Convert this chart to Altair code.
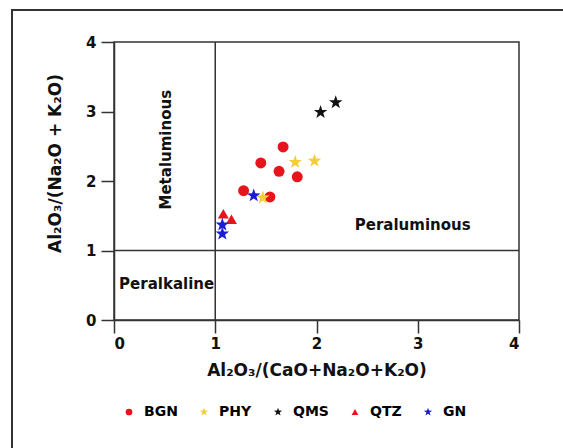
import altair as alt
import pandas as pd

STAR = ("M0,-1.3L0.306,-0.421L1.236,-0.402L0.494,0.161L0.764,1.052L0,0.52"
        "L-0.764,1.052L-0.494,0.161L-1.236,-0.402L-0.306,-0.421Z")

groups = ["BGN", "PHY", "QMS", "QTZ", "GN"]
colors = ["#e8141c", "#f4cd3a", "#111111", "#e8141c", "#1c1cd4"]
shapes = ["circle", STAR, STAR, "triangle-up", STAR]

bgn_x = [1.67, 1.45, 1.63, 1.81, 1.28, 1.54]
bgn_y = [2.49, 2.26, 2.14, 2.06, 1.86, 1.77]
phy_x = [1.79, 1.98, 1.47]
phy_y = [2.27, 2.29, 1.76]
qms_x = [2.04, 2.19]
qms_y = [2.99, 3.13]
qtz_x = [1.08, 1.16]
qtz_y = [1.53, 1.45]
gn_x = [1.38, 1.07, 1.07]
gn_y = [1.79, 1.37, 1.24]

xs = [bgn_x, phy_x, qms_x, qtz_x, gn_x]
ys = [bgn_y, phy_y, qms_y, qtz_y, gn_y]
rows = []
for g, xl, yl in zip(groups, xs, ys):
    for a, b in zip(xl, yl):
        rows.append({"group": g, "x": a, "y": b})
df = pd.DataFrame(rows)

FONT = "DejaVu Sans"
xtitle = "Al\u2082O\u2083/(CaO+Na\u2082O+K\u2082O)"
ytitle = "Al\u2082O\u2083/(Na\u2082O + K\u2082O)"

W, H = 405, 278

xenc = alt.X("x:Q", scale=alt.Scale(domain=[0, 4], nice=False),
             axis=alt.Axis(title=xtitle, values=[0, 1, 2, 3, 4], format="d"))
yenc = alt.Y("y:Q", scale=alt.Scale(domain=[0, 4], nice=False),
             axis=alt.Axis(title=ytitle, values=[0, 1, 2, 3, 4], format="d",
                           titleX=-50, titleY=121))

leg = dict(title=None, orient="none", direction="horizontal",
           columns=5, legendX=8, legendY=363,
           symbolSize=45, labelFontSize=14, labelFont=FONT,
           labelFontWeight="bold", columnPadding=19, labelOffset=8)

pts = alt.Chart(df).mark_point(filled=True, size=120, opacity=1, clip=False).encode(
    x=xenc,
    y=yenc,
    color=alt.Color("group:N", scale=alt.Scale(domain=groups, range=colors),
                    legend=alt.Legend(**leg)),
    shape=alt.Shape("group:N", scale=alt.Scale(domain=groups, range=shapes),
                    legend=alt.Legend(**leg)),
)

lines = pd.DataFrame({"x1": [1, 0], "x2": [1, 4], "y1": [0, 1], "y2": [4, 1]})
rules = alt.Chart(lines).mark_rule(color="#333333", strokeWidth=1.5).encode(
    x="x1:Q", x2="x2:Q", y="y1:Q", y2="y2:Q"
)

labels = pd.DataFrame({
    "x": [0.51, 0.52, 2.95],
    "y": [2.45, 0.52, 1.36],
    "t": ["Metaluminous", "Peralkaline", "Peraluminous"],
    "angle": [270, 0, 0],
})
txt = alt.Chart(labels).mark_text(font=FONT, fontWeight="bold", fontSize=15, color="#111111").encode(
    x="x:Q", y="y:Q", text="t:N", angle=alt.Angle("angle:Q", scale=None)
)

frame = alt.Chart(pd.DataFrame({"a": [0]})).mark_rect(
    fill=None, stroke="#333333", strokeWidth=2, clip=False
).encode(
    x=alt.value(-102), x2=alt.value(460), y=alt.value(-32), y2=alt.value(420)
)

chart = alt.layer(pts, rules, txt, frame).properties(
    width=W, height=H,
    padding={"left": 114, "top": 42, "right": 44, "bottom": 128},
    autosize=alt.AutoSizeParams(type="none"),
).configure_view(
    stroke="#333333", strokeWidth=1.5
).configure_axis(
    domainColor="#333333", domainWidth=1.5, tickColor="#333333", tickWidth=1.5,
    tickSize=13, grid=False, labelFont=FONT, labelFontWeight="bold", labelFontSize=15,
    labelColor="#111111", titleFont=FONT, titleFontWeight="bold", titleFontSize=17,
    titleColor="#111111"
).configure_axisX(labelPadding=3, titlePadding=11).configure_axisY(
    labelPadding=5
)

chart.save("out.html", embed_options={"renderer": "svg", "actions": False})
